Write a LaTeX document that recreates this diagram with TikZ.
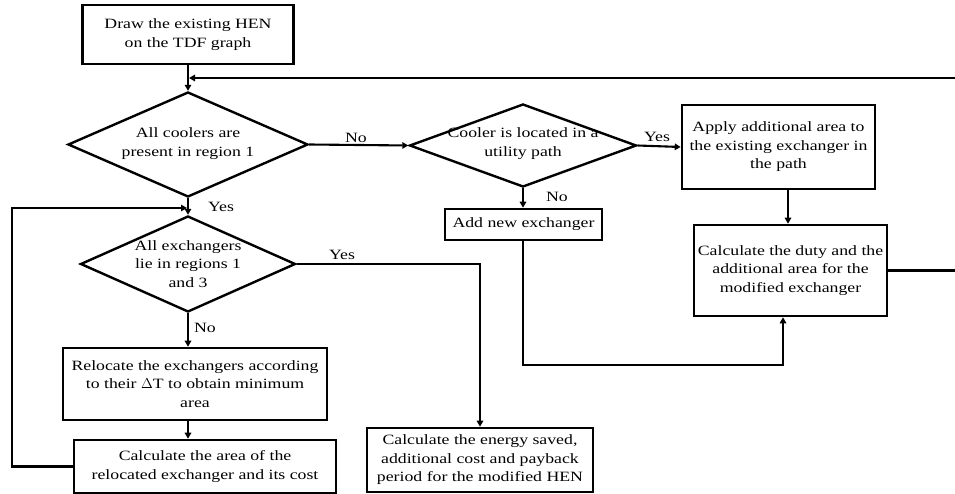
\documentclass[tikz,border=0pt]{standalone}
\usepackage{fontspec}
\setmainfont{Liberation Serif}[FakeStretch=1.25]
\usetikzlibrary{shapes.geometric,arrows.meta}
\begin{document}
\begin{tikzpicture}[x=1pt,y=-1pt,
  every node/.style={font=\fontsize{14.2}{18.5}\selectfont},
  boxnode/.style={draw,line width=2.6pt,align=center,inner sep=0pt},
  dia/.style={draw,line width=2.4pt,diamond,inner sep=0pt},
  conn/.style={line width=2.1pt},
  arr/.style={conn,-{Triangle[length=6pt,width=6.5pt]}},
  lbl/.style={inner sep=0pt}]
\useasboundingbox (0,0) rectangle (955,494);
\clip (0,0) rectangle (955,494);
% boxes
\node[boxnode,minimum width=211pt,minimum height=59pt] (b1) at (188,34.5) {Draw the existing HEN\\on the TDF graph};
\node[dia,minimum width=240pt,minimum height=105pt] (d1) at (188,144.5) {};
\node[align=center] at ([yshift=1pt]d1.center) {All coolers are\\present in region 1};
\node[dia,minimum width=227pt,minimum height=83pt] (d2) at (523,145.5) {};
\node[align=center] at ([yshift=2pt]d2.center) {Cooler is located in a\\utility path};
\node[boxnode,minimum width=193pt,minimum height=84pt] (bap) at (778.5,147) {Apply additional area to\\the existing exchanger in\\the path};
\node[boxnode,minimum width=193pt,minimum height=91pt] (bdu) at (790.5,270.5) {Calculate the duty and the\\additional area for the\\modified exchanger};
\node[boxnode,minimum width=157pt,minimum height=31pt] (bad) at (523.5,224.5) {Add new exchanger};
\node[dia,minimum width=215pt,minimum height=96pt] (d3) at (188,264) {};
\node[align=center] at (d3) {All exchangers\\lie in regions 1\\and 3};
\node[boxnode,minimum width=264pt,minimum height=72pt] (brl) at (195,384) {Relocate the exchangers according\\to their $\Delta$T to obtain minimum\\area};
\node[boxnode,minimum width=262pt,minimum height=53pt] (bar) at (205,466.5) {Calculate the area of the\\relocated exchanger and its cost};
\node[boxnode,minimum width=226pt,minimum height=64pt] (ben) at (480,460) {Calculate the energy saved,\\additional cost and payback\\period for the modified HEN};
% coordinates
\coordinate (fbR) at (962,78);
\coordinate (fbJ) at (189,78);
\coordinate (lpL) at (12,208);
\coordinate (lpJ) at (187,208);
\coordinate (yesC) at (480,264);
\coordinate (xa) at (788,0);
\coordinate (c1) at (783,365);
% connectors
\draw[arr] (b1.south) -- (d1.north);
\draw[arr] (bdu.east) -| (fbR) -- (fbJ);
\draw[arr] (d1.east) -- (d2.west);
\draw[arr] (d2.east) -- (bap.west);
\draw[arr] (bap.south -| xa) -- (bdu.north -| xa);
\draw[arr] (d2.south) -- (bad.north -| d2.south);
\draw[arr] (bad.south -| d2.south) |- (c1) -- (c1 |- bdu.south);
\draw[arr] (d1.south) -- (d3.north);
\draw[arr] (bar.west) -| (lpL) -- (lpJ);
\draw[arr] (d3.east) -- (yesC) -- (yesC |- ben.north);
\draw[arr] (d3.south) -- (d3.south |- brl.north);
\draw[arr] (d3.south |- brl.south) -- (d3.south |- bar.north);
% labels
\node[lbl] (l1) at (356,138) {No};
\node[lbl] (l2) at (657,137) {Yes};
\node[lbl] (l3) at (221,207) {Yes};
\node[lbl] (l4) at (557,197) {No};
\node[lbl] (l5) at (342,255) {Yes};
\node[lbl] (l6) at (205,328) {No};
\end{tikzpicture}
\end{document}
